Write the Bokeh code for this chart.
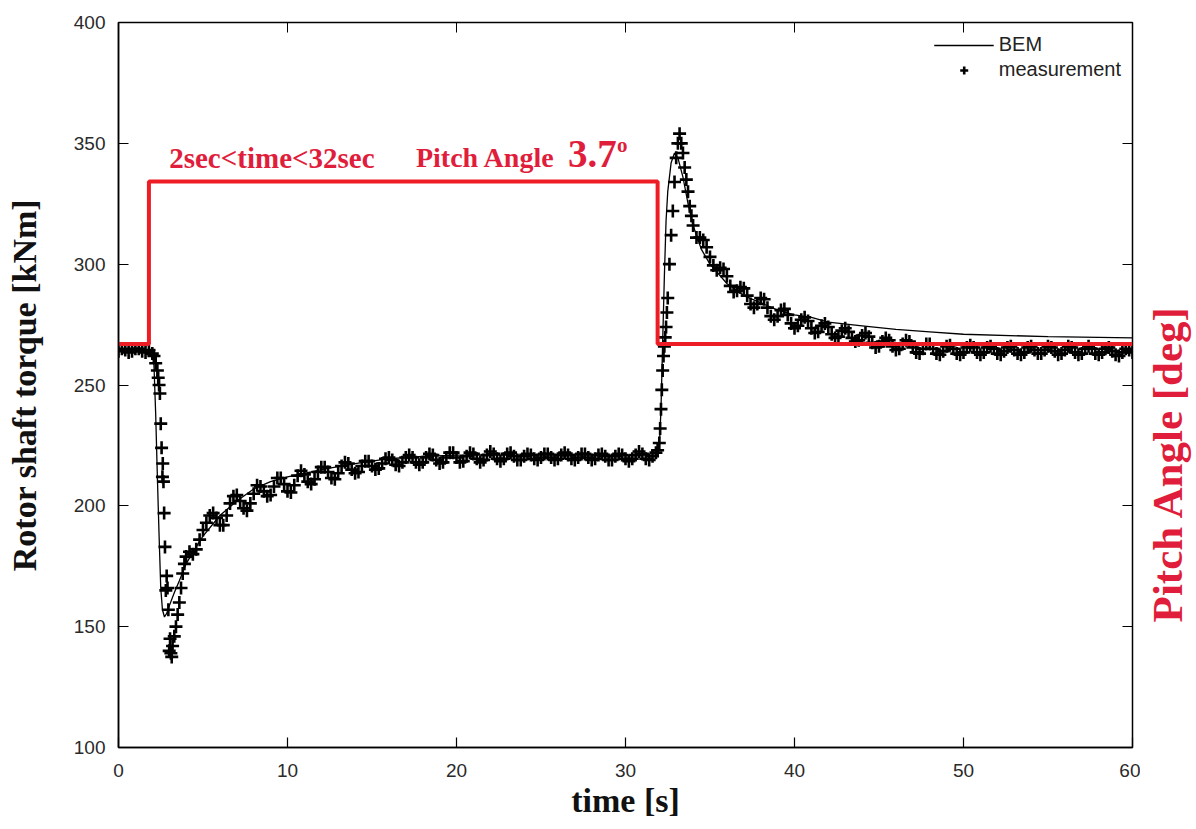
import math
from bokeh.plotting import figure
from bokeh.layouts import row
from bokeh.models import Range1d, LinearAxis, Label, Legend, LegendItem, FixedTicker
from bokeh.embed import file_html
from bokeh.resources import INLINE

# ---------------- data ----------------
x_ticks = [0, 10, 20, 30, 40, 50, 60]
y_ticks = [100, 150, 200, 250, 300, 350, 400]

# BEM simulation (rotor shaft torque, kNm)
bem_t = [0, 1, 2.0, 2.1, 2.2, 2.3, 2.4, 2.5, 2.6, 2.72, 2.85, 3.0, 3.3, 3.6, 4.0, 4.5, 5.0,
         6, 7, 8, 9, 10, 11.4, 12, 14, 16, 18, 20, 24, 28, 31.9, 32.0, 32.1, 32.2, 32.3,
         32.4, 32.5, 32.7, 32.9, 33.1, 33.4, 33.7, 34.0, 34.5, 35, 36, 37, 38, 39, 40, 41,
         42, 44, 46, 48, 50, 55, 60]
bem_v = [264, 264, 263.5, 258, 238, 212, 188, 166, 157, 154, 155.5, 158.5, 164, 169, 176, 182, 187.5,
         196, 202, 207, 210, 212, 214, 215, 217.5, 219.5, 220.5, 221, 221, 221, 221, 224, 240, 268, 295,
         318, 330, 342, 346, 344, 336, 325, 316, 306, 300, 292, 287, 284, 281, 279, 278,
         276, 274.5, 273, 272, 271, 270, 269.5]

# measurement, sampled every 0.2 s from t = 0
meas_start = 0.0
meas_step = 0.2
meas_v = [
    264, 265, 264.5, 263.5, 264, 265, 265, 264, 263.5, 264.5,          # 0.0 - 1.8
    263, 259, 250, 212, 165, 140, 142, 150, 160, 172,                   # 2.0 - 3.8
    179, 181, 180, 182, 186, 190, 193, 196, 197, 195,                   # 4.0 - 5.8
    192, 192, 196, 201, 204, 204.5, 202, 199, 198, 201,                 # 6.0 - 7.8
    205, 208.5, 208, 206, 204, 204.5, 208, 211.5, 211.5, 209,           # 8.0 - 9.8
    206, 205.5, 208.5, 212.5, 214.5, 213, 210, 209, 211, 214,           # 10.0 - 11.8
    216, 216, 214, 211.5, 211, 213.5, 216.5, 218, 217.5, 215,           # 12.0 - 13.8
    213.5, 214, 216.5, 218.5, 218.5, 216.5, 215, 215.5, 217.5, 219.5,   # 14.0 - 15.8
    220, 219, 217, 216.5, 218, 220, 221, 220, 218, 217,                 # 16.0 - 17.8
    218, 220, 221.5, 221, 219, 217.5, 218, 220, 222, 222,               # 18.0 - 19.8
    220, 218, 218.5, 220.5, 222, 221.5, 219.5, 218, 219, 221,           # 20.0 - 21.8
    222.5, 221.5, 219.5, 218.5, 219.5, 221.5, 222, 220.5, 219, 219,     # 22.0 - 23.8
    220.5, 221.5, 221, 219.5, 219, 220, 221.5, 221.5, 220, 219,         # 24.0 - 25.8
    219.5, 221, 222, 221, 219.5, 219, 220, 221.5, 221.5, 220,           # 26.0 - 27.8
    219, 219.5, 221, 221.5, 220.5, 219, 219, 220.5, 221.5, 221,         # 28.0 - 29.8
    219.5, 218.5, 219.5, 221, 222.5, 221.5, 219.5, 219, 220.5, 222,     # 30.0 - 31.8
    226, 256, 274, 300, 322, 344, 354, 346, 335, 324,                   # 32.0 - 33.8
    316, 311, 311, 310, 307, 303, 299.5, 297.5, 298.5, 298,             # 34.0 - 35.8
    295, 291, 288.5, 289, 290.5, 290, 287, 283.5, 282, 283.5,           # 36.0 - 37.8
    286, 285.5, 282, 278.5, 277, 278.5, 281, 281.5, 279, 275.5,         # 38.0 - 39.8
    273.5, 274.5, 277, 278, 276.5, 273.5, 271.5, 272, 274.5, 275.5,     # 40.0 - 41.8
    274, 271, 269.5, 270, 272.5, 273.5, 272, 269.5, 268, 268.5,         # 42.0 - 43.8
    270.5, 271.5, 270, 267.5, 265.5, 266, 268, 269.5, 268.5, 266,       # 44.0 - 45.8
    264.5, 265, 267, 268.5, 268, 265.5, 263.5, 263, 265, 267,           # 46.0 - 47.8
    267, 265, 263, 262.5, 264, 266, 266.5, 265, 263, 262.5,             # 48.0 - 49.8
    263.5, 265.5, 266.5, 265.5, 263.5, 262.5, 263.5, 265.5, 266, 265,   # 50.0 - 51.8
    263, 262.5, 264, 265.5, 266, 264.5, 263, 262.5, 263.5, 265.5,       # 52.0 - 53.8
    266, 264.5, 263, 263, 264.5, 266, 265.5, 264, 262.5, 263,           # 54.0 - 55.8
    264.5, 266, 265.5, 263.5, 262.5, 263, 265, 266, 265, 263,           # 56.0 - 57.8
    262.5, 263.5, 265, 265.5, 264, 262.5, 262, 263.5, 265, 264.5,       # 58.0 - 59.8
    263.5,                                                              # 60.0
]
# extra measurement samples inside the two fast transients
extra_t = [2.1, 2.3, 2.35, 2.45, 2.5, 2.55, 2.62, 2.66, 2.7, 2.75, 2.85, 2.9, 2.95,
           3.05, 3.1, 3.15, 3.3, 3.5, 3.7, 3.9,
           31.9, 32.05, 32.1, 32.15, 32.25, 32.3, 32.35, 32.45, 32.5, 32.7, 32.9,
           33.1, 33.3, 33.5, 33.7, 33.9]
extra_v = [262, 256, 253, 246.5, 234, 224, 217.5, 210, 197, 183, 171, 166, 157,
           145, 139, 137.5, 146, 155, 166, 176,
           223, 232, 240, 248, 262, 266, 269.7, 280, 286, 312, 334,
           350, 350, 340, 330, 320]

# pitch angle step (deg)
pitch_t = [0, 1.8, 1.8, 31.9, 31.9, 60]
pitch_v = [0, 0, 3.7, 3.7, 0, 0]

# ---------------- figure ----------------
RED_LINE = "#ee1c25"
RED_TEXT = "#e01e3c"
SERIF = "Liberation Serif"
SANS = "Liberation Sans"

meas_t = [round(meas_start + i * meas_step, 3) for i in range(len(meas_v))] + extra_t
meas_all = meas_v + extra_v

Y_LO, Y_HI = 100, 400
P_LO, P_HI = -9.196, 7.324
TOP, BOTTOM = 22, 82

p = figure(width=1140, height=829, x_range=Range1d(0, 60), y_range=Range1d(Y_LO, Y_HI),
           output_backend="svg", toolbar_location=None,
           min_border_left=118, min_border_right=8, min_border_top=TOP, min_border_bottom=BOTTOM)
p.extra_y_ranges = {"pitch": Range1d(P_LO, P_HI)}

p.xgrid.visible = False
p.ygrid.visible = False
p.outline_line_color = "black"
p.outline_line_width = 1.5
p.background_fill_color = "white"
p.border_fill_color = "white"

for ax, ticks in ((p.xaxis[0], x_ticks), (p.yaxis[0], y_ticks)):
    ax.ticker = FixedTicker(ticks=ticks)
    ax.major_tick_in = 10
    ax.major_tick_out = 0
    ax.minor_tick_line_color = None
    ax.major_tick_line_color = "black"
    ax.major_tick_line_width = 1.2
    ax.axis_line_color = "black"
    ax.axis_line_width = 1.5
    ax.major_label_text_font = SANS
    ax.major_label_text_font_size = "19px"
    ax.major_label_text_color = "#2a2a2a"
    ax.major_label_standoff = 13
    ax.axis_label_text_font = SERIF
    ax.axis_label_text_font_style = "bold"
    ax.axis_label_text_font_size = "34px"
    ax.axis_label_text_color = "#111111"

p.xaxis[0].axis_label = "time [s]"
p.xaxis[0].major_label_standoff = 16
p.xaxis[0].axis_label_standoff = 2
p.yaxis[0].axis_label = "Rotor shaft torque [kNm]"
p.yaxis[0].axis_label_standoff = 28

# mirrored ticks on top
top_ax = LinearAxis(ticker=FixedTicker(ticks=x_ticks), major_label_text_font_size="0px",
                    major_tick_in=10, major_tick_out=0, minor_tick_line_color=None,
                    axis_line_color=None, major_label_standoff=0)
p.add_layout(top_ax, "above")

# right axis: pitch angle (unlabelled ticks mirror the torque ticks)
pitch_ticks = [P_LO + (v - Y_LO) / (Y_HI - Y_LO) * (P_HI - P_LO) for v in y_ticks]
pitch_ax = LinearAxis(y_range_name="pitch", ticker=FixedTicker(ticks=pitch_ticks),
                      major_label_text_font_size="0px", major_label_standoff=0,
                      major_tick_in=10, major_tick_out=0, major_tick_line_width=1.2,
                      minor_tick_line_color=None, axis_line_color=None)
p.add_layout(pitch_ax, "right")

# data
meas_r = p.scatter(meas_t, meas_all, marker="cross", size=13, line_width=2.6, color="black")
bem_r = p.line(bem_t, bem_v, line_width=1.3, color="black")
p.line(pitch_t, pitch_v, y_range_name="pitch", line_width=4, color=RED_LINE)

# annotations
p.add_layout(Label(x=3.0, y=344, text="2sec<time<32sec", text_font=SERIF, text_font_style="bold",
                   text_font_size="29px", text_color=RED_TEXT, text_baseline="middle"))
p.add_layout(Label(x=17.6, y=344, text="Pitch Angle", text_font=SERIF, text_font_style="bold",
                   text_font_size="28px", text_color=RED_TEXT, text_baseline="middle"))
p.add_layout(Label(x=26.6, y=345.5, text="3.7", text_font=SERIF, text_font_style="bold",
                   text_font_size="39px", text_color=RED_TEXT, text_baseline="middle"))
p.add_layout(Label(x=29.5, y=349.5, text="o", text_font=SERIF, text_font_style="bold",
                   text_font_size="21px", text_color=RED_TEXT, text_baseline="middle"))

legend = Legend(items=[LegendItem(label="BEM", renderers=[bem_r]),
                       LegendItem(label="measurement", renderers=[meas_r])],
                location="top_right", border_line_color=None, background_fill_alpha=0,
                label_text_font=SANS, label_text_font_size="20px", label_text_color="#222222",
                glyph_width=60, spacing=2, padding=4, margin=11)
p.add_layout(legend)

# narrow side panel carrying the pitch-angle axis title (reads bottom to top)
side = figure(width=56, height=829, x_range=Range1d(0, 1), y_range=Range1d(Y_LO, Y_HI),
              output_backend="svg", toolbar_location=None,
              x_axis_location=None, y_axis_location=None,
              min_border_left=0, min_border_right=0, min_border_top=TOP, min_border_bottom=BOTTOM)
side.xgrid.visible = False
side.ygrid.visible = False
side.outline_line_color = None
side.background_fill_color = "white"
side.border_fill_color = "white"
side.add_layout(Label(x=0.48, y=217.5, text="Pitch Angle [deg]", angle=math.pi / 2,
                      text_font=SERIF, text_font_style="bold", text_font_size="43px",
                      text_color=RED_TEXT, text_align="center", text_baseline="middle"))

layout = row(p, side, spacing=0)
open("out.html", "w").write(file_html(layout, INLINE))
